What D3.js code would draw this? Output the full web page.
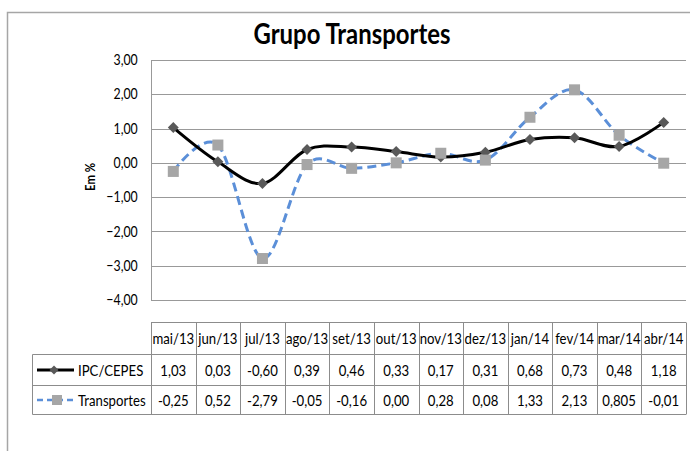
<!DOCTYPE html>
<html><head><meta charset="utf-8">
<script src="https://cdn.jsdelivr.net/npm/d3@7"></script>
<style>body{margin:0;background:#fff;} text{font-family:Lato,"Open Sans",sans-serif;}</style>
</head><body>
<svg id="c" width="690" height="451"></svg>
<script>
const categories = ["mai/13","jun/13","jul/13","ago/13","set/13","out/13","nov/13","dez/13","jan/14","fev/14","mar/14","abr/14"];
const ipcValues = [1.03,0.03,-0.60,0.39,0.46,0.33,0.17,0.31,0.68,0.73,0.48,1.18];
const transpValues = [-0.25,0.52,-2.79,-0.05,-0.16,0.00,0.28,0.08,1.33,2.13,0.805,-0.01];
const ipcLabels = ["1,03","0,03","-0,60","0,39","0,46","0,33","0,17","0,31","0,68","0,73","0,48","1,18"];
const transpLabels = ["-0,25","0,52","-2,79","-0,05","-0,16","0,00","0,28","0,08","1,33","2,13","0,805","-0,01"];
const yTicks = [3,2,1,0,-1,-2,-3,-4];
const seriesNames = ["IPC/CEPES","Transportes"];

const svg = d3.select("#c");
const L = 151, R = 686, T = 60, B = 300;
const x = d3.scaleBand().domain(categories).range([L, R]);
const y = d3.scaleLinear().domain([-4, 3]).range([B, T]);
const fmt = v => d3.format(".2f")(v).replace(".", ",");
const SX = 0.85;

function txt(parent, tx, ty, str, size, anchor, weight) {
  return parent.append("text")
    .attr("transform", `translate(${tx},${ty}) scale(${SX},1)`)
    .attr("text-anchor", anchor || "start")
    .attr("font-size", size)
    .style("font-weight", weight || "normal")
    .attr("fill", "#000")
    .text(str);
}

// outer border
svg.append("path").attr("d", "M7.5,451 L7.5,12.5 L690,12.5").attr("fill","none").attr("stroke","#a6a6a6").attr("stroke-width",1.5);

// title
svg.append("text").attr("x", 352).attr("y", 44).attr("text-anchor","middle")
  .attr("font-size", 28).style("font-weight","bold").attr("fill","#000")
  .attr("textLength", 197).attr("lengthAdjust","spacingAndGlyphs").text("Grupo Transportes");

// gridlines
svg.append("g").selectAll("line").data(yTicks).join("line")
  .attr("x1", L).attr("x2", R).attr("y1", d => Math.round(y(d))+0.5).attr("y2", d => Math.round(y(d))+0.5)
  .attr("stroke","#999").attr("stroke-width",1);
svg.append("line").attr("x1", L+0.5).attr("x2", L+0.5).attr("y1", T).attr("y2", B+0.5).attr("stroke","#999");

// y axis labels
const yAxis = d3.axisLeft(y).tickValues(yTicks).tickFormat(fmt).tickSize(0).tickPadding(0);
const ga = svg.append("g").attr("transform", `translate(${L},0)`).call(yAxis);
ga.select(".domain").remove();
ga.selectAll("text").attr("font-size", 14.5).attr("fill","#000").style("font-family","Lato, sans-serif")
  .attr("x", -13.3 / SX).attr("transform", `scale(${SX},1)`);

// y axis title
svg.append("text").attr("transform", `translate(95,177) rotate(-90)`).attr("text-anchor","middle")
  .attr("font-size",14).style("font-weight","bold").attr("fill","#000")
  .attr("textLength", 28).attr("lengthAdjust","spacingAndGlyphs").text("Em %");

const cx = d => x(d) + x.bandwidth()/2;
const line = d3.line().x((d,i) => cx(categories[i])).y(d => y(d)).curve(d3.curveCardinal.tension(0));

// Transportes line
svg.append("path").attr("d", line(transpValues)).attr("fill","none").attr("stroke","#5b8fd8")
  .attr("stroke-width",3).attr("stroke-dasharray","9,5");
// IPC line
svg.append("path").attr("d", line(ipcValues)).attr("fill","none").attr("stroke","#000").attr("stroke-width",3);

// IPC markers (diamonds)
svg.append("g").selectAll("path").data(ipcValues).join("path")
  .attr("d", d3.symbol(d3.symbolSquare, 60)())
  .attr("transform", (d,i) => `translate(${cx(categories[i])},${y(d)}) rotate(45)`)
  .attr("fill","#595959");
// Transportes markers (squares)
svg.append("g").selectAll("rect").data(transpValues).join("rect")
  .attr("x", (d,i) => cx(categories[i]) - 5.5).attr("y", d => y(d) - 5.5)
  .attr("width", 11).attr("height", 11).attr("fill","#a6a6a6");

// data table
const tTop = 322.5, r1 = 354.5, r2 = 385.5, tBot = 414.5, legL = 32.5;
const tg = svg.append("g");
const gray = "#8c8c8c";
tg.append("line").attr("x1", L).attr("x2", R).attr("y1", tTop).attr("y2", tTop).attr("stroke", gray);
[r1, r2, tBot].forEach(yy => tg.append("line").attr("x1", legL).attr("x2", R).attr("y1", yy).attr("y2", yy).attr("stroke", gray));
tg.append("line").attr("x1", legL).attr("x2", legL).attr("y1", r1).attr("y2", tBot).attr("stroke", gray);
const bounds = categories.map(c => x(c)).concat([R]);
tg.selectAll("line.v").data(bounds).join("line").attr("class","v")
  .attr("x1", d => Math.round(d)+0.5).attr("x2", d => Math.round(d)+0.5).attr("y1", tTop).attr("y2", tBot).attr("stroke", gray);

const fs = 15.5;
categories.forEach((c, i) => {
  txt(tg, cx(c), (tTop + r1)/2 + 5.5, c, fs, "middle");
  txt(tg, cx(c), (r1 + r2)/2 + 5.5, ipcLabels[i], fs, "middle");
  txt(tg, cx(c), (r2 + tBot)/2 + 5.5, transpLabels[i], fs, "middle");
});

// legend keys
const k1 = (r1 + r2)/2, k2 = (r2 + tBot)/2;
tg.append("line").attr("x1", 37).attr("x2", 74).attr("y1", k1).attr("y2", k1).attr("stroke","#000").attr("stroke-width",3);
tg.append("path").attr("d", d3.symbol(d3.symbolSquare, 40)()).attr("transform", `translate(54,${k1}) rotate(45)`).attr("fill","#595959");
tg.append("line").attr("x1", 37).attr("x2", 75).attr("y1", k2).attr("y2", k2).attr("stroke","#5b8fd8").attr("stroke-width",2.5).attr("stroke-dasharray","6,4");
tg.append("rect").attr("x", 52).attr("y", k2 - 5).attr("width",10).attr("height",10).attr("fill","#a6a6a6");
txt(tg, 78, k1 + 5.5, seriesNames[0], fs);
txt(tg, 78, k2 + 5.5, seriesNames[1], fs);
</script>
</body></html>
